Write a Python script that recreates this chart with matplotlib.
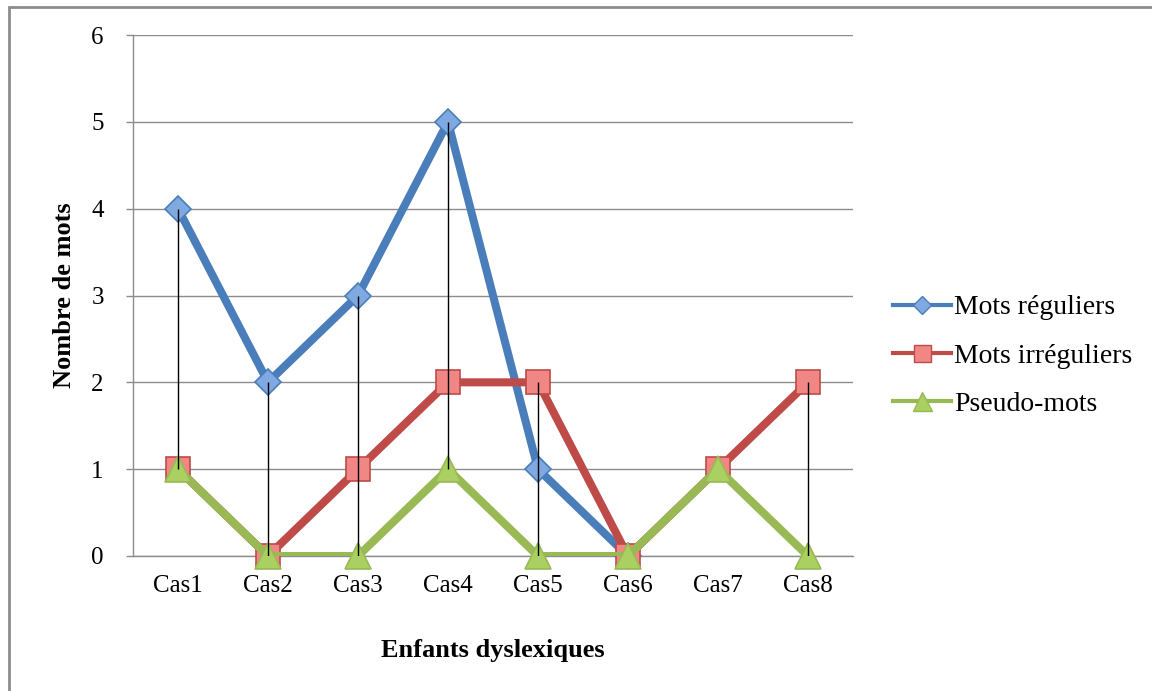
import matplotlib
matplotlib.use("Agg")
import matplotlib.pyplot as plt
from matplotlib.patches import Rectangle
from matplotlib.lines import Line2D
import numpy as np

categories = ["Cas1", "Cas2", "Cas3", "Cas4", "Cas5", "Cas6", "Cas7", "Cas8"]
# blue series is not visible after Cas6 in the source
mots_reguliers = [4, 2, 3, 5, 1, 0, None, None]
mots_irreguliers = [1, 0, 1, 2, 2, 0, 1, 2]
pseudo_mots = [1, 0, 0, 1, 0, 0, 1, 0]
y_ticks = [0, 1, 2, 3, 4, 5, 6]

FONT = "Liberation Serif"
FS = 18

SERIES = [
    ("Mots réguliers", mots_reguliers, "#4a7ebb", "#7fa9e0", "D", 13),
    ("Mots irréguliers", mots_irreguliers, "#be4b48", "#f08784", "s", 17),
    ("Pseudo-mots", pseudo_mots, "#98b954", "#a9d060", "^", 19),
]

plt.rcParams["font.family"] = [FONT, "DejaVu Serif"]

fig = plt.figure(figsize=(11.52, 6.91), dpi=100)
ax = fig.add_axes([133 / 1152, 1 - 556 / 691, 720 / 1152, (556 - 35) / 691])

x = np.arange(len(categories))
handles = []
for i, (name, vals, col, fill, mk, ms) in enumerate(SERIES):
    v = np.array([np.nan if a is None else a for a in vals], dtype=float)
    ax.plot(x, v, color=col, lw=5.8, solid_joinstyle="miter", zorder=3 + i)
    ax.plot(x, v, ls="none", marker=mk, ms=ms, mfc=fill, mec=col, mew=1.2,
            clip_on=False, zorder=3 + i)
    handles.append(Line2D([], [], color=col, lw=3, marker=mk, ms=ms * 0.72,
                          mfc=fill, mec=col, mew=1))

# high-low lines
all_vals = np.array([[np.nan if a is None else a for a in s[1]] for s in SERIES])
ax.vlines(x, np.nanmin(all_vals, axis=0), np.nanmax(all_vals, axis=0),
          color="black", lw=1, zorder=10)

ax.set_xlim(-0.5, len(categories) - 0.5)
ax.set_ylim(0, 6)
ax.set_yticks(y_ticks)
ax.set_yticklabels([str(t) for t in y_ticks], fontsize=FS)
ax.set_xticks(x)
ax.set_xticklabels(categories, fontsize=FS)
ax.tick_params(axis="x", length=0, pad=14)
ax.tick_params(axis="y", length=5, width=1, color="#8c8c8c", pad=16)
ax.yaxis.grid(True, color="#8c8c8c", lw=1)
ax.set_axisbelow(True)
for s in ["top", "right"]:
    ax.spines[s].set_visible(False)
for s in ["left", "bottom"]:
    ax.spines[s].set_color("#8c8c8c")
    ax.spines[s].set_linewidth(1)

ax.set_xlabel("Enfants dyslexiques", fontsize=19, fontweight="bold", labelpad=30)
ax.set_ylabel("Nombre de mots", fontsize=19, fontweight="bold", labelpad=11)

fig.legend(handles, [s[0] for s in SERIES], loc="center left",
           bbox_to_anchor=(868 / 1152, 1 - 356 / 691), frameon=False,
           fontsize=20, handlelength=2.1, handletextpad=0.1, labelspacing=0.82)

fig.patches.append(Rectangle((9 / 1152, -0.1), 1.2, 1 - 7 / 691 + 0.1,
                             transform=fig.transFigure, fill=False,
                             ec="#8c8c8c", lw=2))

fig.savefig("out.png", dpi=100)
